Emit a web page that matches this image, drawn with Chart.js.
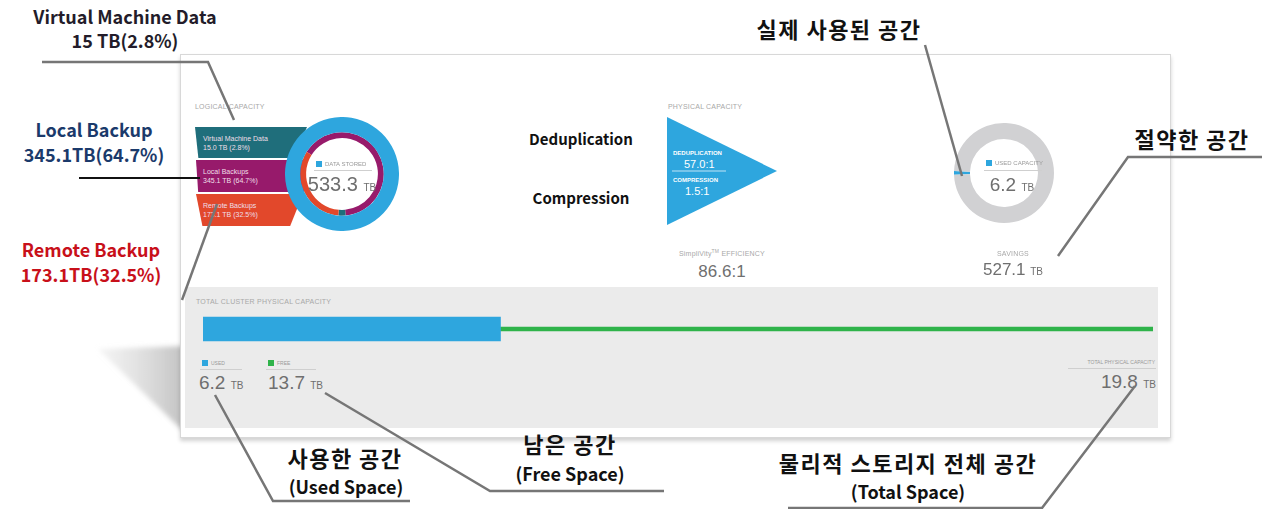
<!DOCTYPE html>
<html>
<head>
<meta charset="utf-8">
<script src="https://cdn.jsdelivr.net/npm/chart.js@4.4.1/dist/chart.umd.min.js"></script>
<style>
  html, body { margin: 0; padding: 0; background: #fff; }
  #stage { position: relative; width: 1271px; height: 509px; overflow: hidden; background: #fff; }
  .t { position: absolute; white-space: nowrap; line-height: 1; }
  .note { font-family: "Noto Sans CJK KR", "Noto Sans", sans-serif; font-weight: 700; color: #231c2a; text-align: center; }
  .ui { font-family: "Liberation Sans", Arial, sans-serif; color: #8c8c8c; }
  .cap { font-size: 7px; letter-spacing: 0.2px; color: #a8a8a8; }
  .big { font-size: 19px; color: #6f6f6f; }
  .big small { font-size: 10px; }
  canvas { position: absolute; }
  .shape { position: absolute; }
  .sq { position: absolute; width: 6px; height: 6px; }
  .rule { position: absolute; height: 1px; background: #cfcfcf; }
</style>
</head>
<body>
<div id="stage">
  <svg width="1271" height="509" style="position:absolute;left:0;top:0">
    <defs>
      <linearGradient id="sh" x1="0" y1="0" x2="1" y2="0">
        <stop offset="0" stop-color="#dcdcdc" stop-opacity="0.3"/>
        <stop offset="1" stop-color="#c2c2c2" stop-opacity="1"/>
      </linearGradient>
      <filter id="bl"><feGaussianBlur stdDeviation="2.5"/></filter>
    </defs>
    <polygon points="98,349 184,346 184,432" fill="url(#sh)" filter="url(#bl)"/>
  </svg>
  <div style="position:absolute;left:180px;top:54px;width:989px;height:382px;background:#fff;border:1px solid #d8d8d8;box-shadow:0 3px 4px rgba(0,0,0,0.18)"></div>
  <div style="position:absolute;left:185px;top:287px;width:973px;height:141px;background:#ebebeb"></div>

  <!-- logical capacity bands -->
  <div class="shape" style="left:195px;top:127px;width:112px;height:31px;background:#1f6e7b;clip-path:polygon(0 0,100% 0,88% 100%,3% 100%)"></div>
  <div class="shape" style="left:196px;top:160px;width:108px;height:32px;background:#971a6b;clip-path:polygon(0 0,100% 0,100% 100%,2% 100%)"></div>
  <div class="shape" style="left:196px;top:194px;width:107px;height:32px;background:#e2482b;clip-path:polygon(0 0,100% 0,88% 100%,6% 100%)"></div>

  <!-- physical capacity triangle -->
  <div class="shape" style="left:667px;top:117px;width:110px;height:108px;background:#2ea6de;clip-path:polygon(0 0,100% 50%,0 100%)"></div>

  <canvas id="logical" width="114" height="114" style="left:285px;top:117px"></canvas>
  <canvas id="used" width="100" height="100" style="left:954px;top:123px"></canvas>
  <canvas id="cluster" width="950" height="38" style="left:203px;top:310px"></canvas>

  <svg id="lines" width="1271" height="509" style="position:absolute;left:0;top:0;pointer-events:none">
    <g fill="none" stroke="#767676" stroke-width="2.5">
      <polyline points="42,62 208,62 234,120"/>
      <line x1="217" y1="204" x2="182" y2="300"/>
      <line x1="925" y1="45" x2="962" y2="176"/>
      <polyline points="1262,157 1128,157 1058,256"/>
      <polyline points="215,395 273,501 410,501"/>
      <polyline points="325,393 490,491 664,491"/>
      <polyline points="1135,386 1042,508 788,508"/>
    </g>
    <line x1="79" y1="178" x2="200" y2="178" stroke="#111" stroke-width="2"/>
  </svg>
</div>

<script>
// values (TB)
const logicalLabels = ['Local Backups', 'Virtual Machine Data', 'Remote Backups'];
const logicalValues = [345.1, 15.0, 173.1];
const logicalShares = [64.7, 2.8, 32.5];
const logicalColors = ['#971a6b', '#1f6e7b', '#e2482b'];
const dataStored = 533.3;

const usedCapacity = 6.2;
const savings = 527.1;

const dedupRatio = 57.0;
const compressionRatio = 1.5;
const efficiencyRatio = 86.6;

const clusterLabels = ['USED', 'FREE'];
const clusterValues = [6.2, 13.7];
const totalPhysical = 19.8;

const blue = '#2ea6de';
const green = '#2fb34a';
const grey = '#d1d1d3';

const stage = document.getElementById('stage');

// small helper to drop a text box on the page
function put(html, x, y, cls, align, extra) {
    const d = document.createElement('div');
    d.className = 't ' + cls;
    d.innerHTML = html;
    let tx = '0';
    if (align === 'center') tx = '-50%';
    if (align === 'right') tx = '-100%';
    d.style.left = x + 'px';
    d.style.top = y + 'px';
    d.style.transform = 'translate(' + tx + ',-50%)';
    if (extra) d.style.cssText += extra;
    stage.appendChild(d);
    return d;
}
function sq(x, y, color) {
    const d = document.createElement('div');
    d.className = 'sq';
    d.style.left = x + 'px'; d.style.top = y + 'px'; d.style.background = color;
    stage.appendChild(d);
}
function rule(x, y, w) {
    const d = document.createElement('div');
    d.className = 'rule';
    d.style.left = x + 'px'; d.style.top = y + 'px'; d.style.width = w + 'px';
    stage.appendChild(d);
}
const tb = v => v.toFixed(1) + ' <small>TB</small>';

// panel captions
put('LOGICAL CAPACITY', 195, 106, 'ui cap', 'left');
put('PHYSICAL CAPACITY', 668, 106, 'ui cap', 'left');
put('TOTAL CLUSTER PHYSICAL CAPACITY', 196, 301, 'ui cap', 'left');

// band texts
const bandTop = { 'Virtual Machine Data': 143, 'Local Backups': 176, 'Remote Backups': 210 };
logicalLabels.forEach((lab, i) => {
    put(lab + '<br>' + logicalValues[i].toFixed(1) + ' TB (' + logicalShares[i] + '%)',
        203, bandTop[lab], 'ui', 'left', 'font-size:7px;line-height:9px;color:#efdfe8');
});

// donut centre: data stored
sq(316, 161, blue);
put('DATA STORED', 325, 164, 'ui', 'left', 'font-size:6px;color:#999');
rule(314, 170, 58);
put(tb(dataStored), 342, 184, 'ui big', 'center', 'font-size:20px');

// triangle texts
put('DEDUPLICATION', 673, 153, 'ui', 'left', 'font-size:6px;font-weight:700;color:#fff');
put(dedupRatio.toFixed(1) + ':1', 684, 164, 'ui', 'left', 'font-size:11px;color:#fff');
put('', 672, 171, 'ui', 'left', 'width:54px;height:1px;background:#bfe4f5');
put('COMPRESSION', 673, 180, 'ui', 'left', 'font-size:6px;font-weight:700;color:#fff');
put(compressionRatio.toFixed(1) + ':1', 685, 191, 'ui', 'left', 'font-size:11px;color:#fff');

put('SimpliVity<sup style="font-size:5px">TM</sup> EFFICIENCY', 722, 253, 'ui cap', 'center');
put(efficiencyRatio.toFixed(1) + ':1', 722, 271, 'ui big', 'center', 'font-size:17px');

// used capacity donut centre
sq(986, 160, blue);
put('USED CAPACITY', 995, 163, 'ui', 'left', 'font-size:6px;color:#999');
rule(984, 170, 58);
put(tb(usedCapacity), 1012, 184, 'ui big', 'center');
put('SAVINGS', 1013, 253, 'ui cap', 'center');
put(tb(savings), 1013, 269, 'ui big', 'center', 'font-size:17px');

// cluster legend
sq(202, 360, blue);
put(clusterLabels[0], 211, 363, 'ui', 'left', 'font-size:5px;color:#999');
rule(200, 369, 42);
put(tb(clusterValues[0]), 199, 382, 'ui big', 'left');
sq(268, 360, green);
put(clusterLabels[1], 277, 363, 'ui', 'left', 'font-size:5px;color:#999');
rule(266, 369, 50);
put(tb(clusterValues[1]), 268, 382, 'ui big', 'left');
put('TOTAL PHYSICAL CAPACITY', 1155, 362, 'ui', 'right', 'font-size:5px;color:#999');
rule(1068, 368, 88);
put(tb(totalPhysical), 1156, 381, 'ui big', 'right');

// annotations around the screenshot
const ko = 'font-size:22px;letter-spacing:1.5px;color:#111';
const en = 'font-size:18px;color:#111';
put('Virtual Machine Data<br>15 TB(2.8%)', 125, 28, 'note', 'center', 'font-size:18px;line-height:24px');
put('Local Backup<br>345.1TB(64.7%)', 94, 142, 'note', 'center', 'font-size:18px;line-height:25px;color:#1b3a6b');
put('Remote Backup<br>173.1TB(32.5%)', 91, 262, 'note', 'center', 'font-size:18px;line-height:25px;color:#c8101a');
put('Deduplication', 581, 138, 'note', 'center', 'font-size:15px;color:#111');
put('Compression', 581, 197, 'note', 'center', 'font-size:15px;color:#111');
put('실제 사용된 공간', 839, 28, 'note', 'center', ko);
put('절약한 공간', 1192, 138, 'note', 'center', ko);
put('사용한 공간', 345, 457, 'note', 'center', ko);
put('(Used Space)', 346, 486, 'note', 'center', en);
put('남은 공간', 570, 443, 'note', 'center', ko);
put('(Free Space)', 570, 473, 'note', 'center', en);
put('물리적 스토리지 전체 공간', 908, 462, 'note', 'center', ko);
put('(Total Space)', 908, 491, 'note', 'center', en);

// keep the leader lines on top
stage.appendChild(document.getElementById('lines'));

const common = {
    responsive: false,
    animation: false,
    events: [],
    plugins: { legend: { display: false }, tooltip: { enabled: false } }
};

// logical capacity donut: outer ring = data stored, inner ring = breakdown
new Chart(document.getElementById('logical'), {
    type: 'doughnut',
    data: {
        labels: logicalLabels,
        datasets: [
            { data: [dataStored], backgroundColor: [blue], borderWidth: 0, weight: 2.6 },
            { data: logicalValues, backgroundColor: logicalColors, borderWidth: 0, weight: 1 }
        ]
    },
    options: Object.assign({}, common, { cutout: '63%', rotation: -58 })
});

// used capacity vs savings
new Chart(document.getElementById('used'), {
    type: 'doughnut',
    data: {
        labels: ['Used', 'Savings'],
        datasets: [{ data: [usedCapacity, savings], backgroundColor: [blue, grey], borderWidth: 0 }]
    },
    options: Object.assign({}, common, { cutout: '68%', rotation: 268 })
});

// total cluster physical capacity bar
new Chart(document.getElementById('cluster'), {
    type: 'bar',
    data: {
        labels: ['cluster'],
        datasets: [
            { label: clusterLabels[0], data: [clusterValues[0]], backgroundColor: blue, barThickness: 24 },
            { label: clusterLabels[1], data: [clusterValues[1]], backgroundColor: green, barThickness: 4 }
        ]
    },
    options: Object.assign({}, common, {
        indexAxis: 'y',
        layout: { padding: 0 },
        scales: {
            x: { display: false, stacked: true, min: 0, max: totalPhysical },
            y: { display: false, stacked: true }
        }
    })
});
</script>
</body>
</html>
